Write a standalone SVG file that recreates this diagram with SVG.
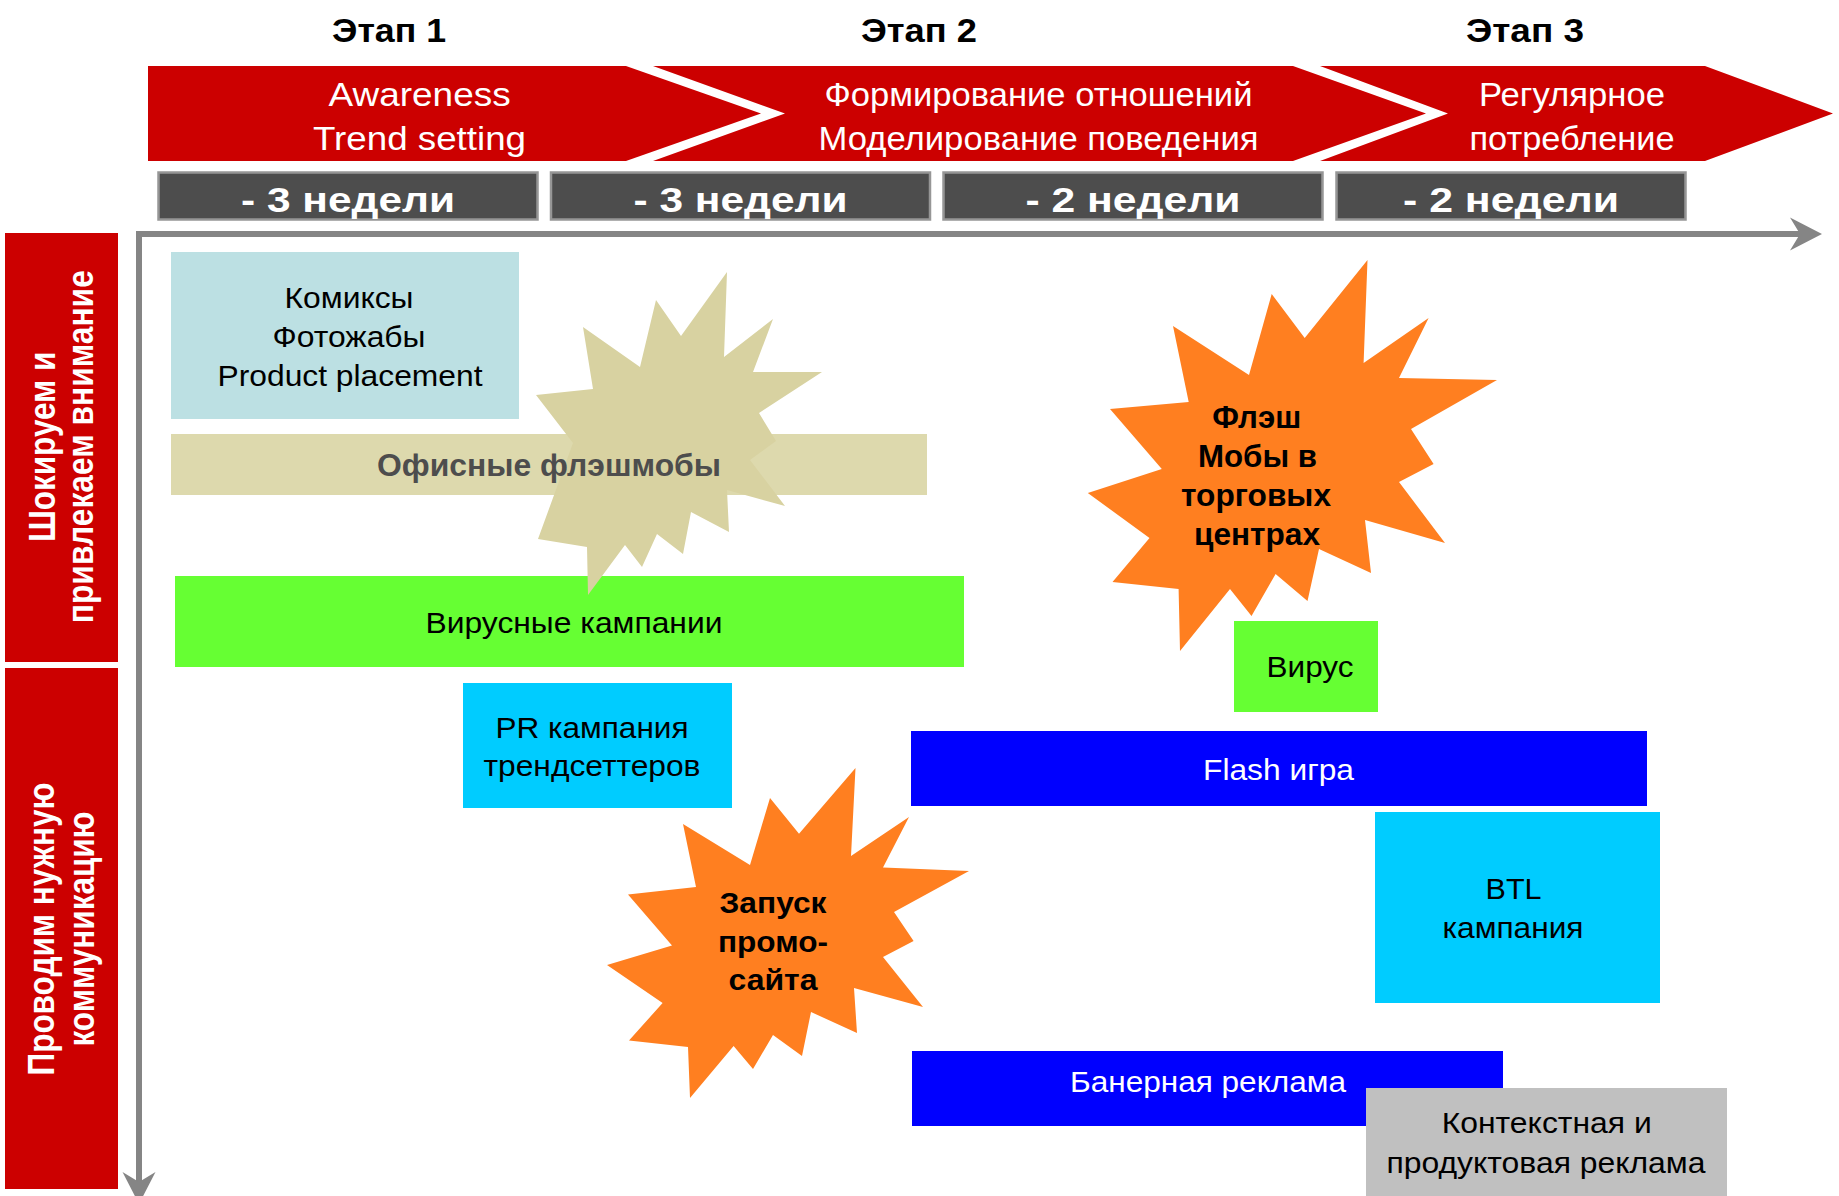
<svg xmlns="http://www.w3.org/2000/svg" width="1839" height="1196" viewBox="0 0 1839 1196">
  <style>
    text { font-family: "Liberation Sans", Arial, sans-serif; text-anchor: middle; }
    .b { font-weight: bold; }
    .stage { font-size: 33px; fill: #000; }
    .chev { font-size: 34px; fill: #fff; }
    .week { font-size: 35px; fill: #fff; }
    .vert { font-size: 36px; fill: #fff; }
    .lbl { font-size: 30px; fill: #000; }
    .wlbl { font-size: 30px; fill: #fff; }
    .red { fill: #CC0000; }
    .weekbox { fill: #4D4D4D; stroke: #969696; stroke-width: 2.5; }
    .orange { fill: #FF7F20; }
    .axis { stroke: #858585; stroke-width: 6; stroke-linecap: square; fill: none; }
  </style>
  <defs>
    <marker id="arr" markerUnits="userSpaceOnUse" markerWidth="40" markerHeight="40" viewBox="0 -20 40 40" refX="14" refY="0" orient="auto">
      <path d="M0,-16.5 L32,0 L0,16.5 L10,0 Z" fill="#858585"/>
    </marker>
  </defs>

  <rect width="1839" height="1196" fill="#fff"/>

  <!-- Stage headers -->
  <g id="stages">
    <text class="stage b" x="389" y="41.5" textLength="114" lengthAdjust="spacingAndGlyphs">Этап 1</text>
    <text class="stage b" x="919" y="41.5" textLength="116" lengthAdjust="spacingAndGlyphs">Этап 2</text>
    <text class="stage b" x="1525" y="41.5" textLength="118" lengthAdjust="spacingAndGlyphs">Этап 3</text>
  </g>

  <!-- Chevron band -->
  <g id="phase-1">
    <polygon class="red" points="148,66 626,66 761,113.5 626,161 148,161"/>
    <text class="chev" x="419.6" y="106" textLength="182" lengthAdjust="spacingAndGlyphs">Awareness</text>
    <text class="chev" x="419.5" y="149.5" textLength="213" lengthAdjust="spacingAndGlyphs">Trend setting</text>
  </g>
  <g id="phase-2">
    <polygon class="red" points="653,66 1293,66 1426,113.5 1293,161 653,161 785,113.5"/>
    <text class="chev" x="1038.5" y="106" textLength="428" lengthAdjust="spacingAndGlyphs">Формирование отношений</text>
    <text class="chev" x="1038.5" y="149.5" textLength="440" lengthAdjust="spacingAndGlyphs">Моделирование поведения</text>
  </g>
  <g id="phase-3">
    <polygon class="red" points="1320,66 1705,66 1833,113.5 1705,161 1320,161 1448,113.5"/>
    <text class="chev" x="1572" y="106" textLength="186" lengthAdjust="spacingAndGlyphs">Регулярное</text>
    <text class="chev" x="1572" y="149.5" textLength="205" lengthAdjust="spacingAndGlyphs">потребление</text>
  </g>

  <!-- Week boxes -->
  <g id="week-1">
    <rect class="weekbox" x="158.5" y="172.5" width="379" height="47"/>
    <text class="week b" x="348" y="212.3" textLength="214" lengthAdjust="spacingAndGlyphs">- 3 недели</text>
  </g>
  <g id="week-2">
    <rect class="weekbox" x="551" y="172.5" width="379" height="47"/>
    <text class="week b" x="740.5" y="212.3" textLength="214" lengthAdjust="spacingAndGlyphs">- 3 недели</text>
  </g>
  <g id="week-3">
    <rect class="weekbox" x="943.5" y="172.5" width="379" height="47"/>
    <text class="week b" x="1133" y="212.3" textLength="215" lengthAdjust="spacingAndGlyphs">- 2 недели</text>
  </g>
  <g id="week-4">
    <rect class="weekbox" x="1336.5" y="172.5" width="349" height="47"/>
    <text class="week b" x="1511" y="212.3" textLength="216" lengthAdjust="spacingAndGlyphs">- 2 недели</text>
  </g>

  <!-- Row labels -->
  <g id="row-attention">
    <rect class="red" x="5" y="233" width="113" height="429"/>
    <text class="vert b" transform="translate(55,446.7) rotate(-90)" textLength="190" lengthAdjust="spacingAndGlyphs">Шокируем и</text>
    <text class="vert b" transform="translate(93,446.7) rotate(-90)" textLength="353" lengthAdjust="spacingAndGlyphs">привлекаем внимание</text>
  </g>
  <g id="row-communication">
    <rect class="red" x="5" y="668" width="113" height="521"/>
    <text class="vert b" transform="translate(54,929) rotate(-90)" textLength="293" lengthAdjust="spacingAndGlyphs">Проводим нужную</text>
    <text class="vert b" transform="translate(94,929) rotate(-90)" textLength="235" lengthAdjust="spacingAndGlyphs">коммуникацию</text>
  </g>

  <!-- Axes -->
  <g id="connectors">
    <line class="axis" x1="139" y1="234" x2="1804" y2="234" marker-end="url(#arr)"/>
    <line class="axis" x1="139" y1="234" x2="139" y2="1186" marker-end="url(#arr)"/>
  </g>

  <!-- Nodes -->
  <g id="comics">
    <rect x="171" y="252" width="348" height="167" fill="#BCE0E3"/>
    <text class="lbl" x="349" y="308" textLength="129" lengthAdjust="spacingAndGlyphs">Комиксы</text>
    <text class="lbl" x="349" y="347" textLength="153" lengthAdjust="spacingAndGlyphs">Фотожабы</text>
    <text class="lbl" x="350" y="385.5" textLength="265" lengthAdjust="spacingAndGlyphs">Product placement</text>
  </g>

  <g id="viral-campaigns">
    <rect x="175" y="576" width="789" height="91" fill="#66FF33"/>
    <text class="lbl" x="574" y="633" textLength="297" lengthAdjust="spacingAndGlyphs">Вирусные кампании</text>
  </g>

  <g id="office-flashmob">
    <rect x="171" y="434" width="756" height="61" fill="#DDD9AD"/>
    <polygon fill="#D8D2A1" points="727,272 724,357 773,319 753,372 822,372 759,413 776,441 750,460 785,506 727,490 729,532 691,512 683,554 657,534 642,567 625,545 588,595 587,547 538,539 573,443 536,395 593,389 583,327 640,367 656,300 681,336"/>
    <text class="b" x="549" y="476" font-size="32" fill="#4D4D4D" textLength="344" lengthAdjust="spacingAndGlyphs">Офисные флэшмобы</text>
  </g>

  <g id="mall-flashmob">
    <polygon class="orange" points="1367.5,260 1363.6,363 1428.6,318 1399,378 1497,380 1411,429 1433.6,464 1399,482 1445,543 1365,520 1371,573 1319,549 1307.5,601 1275.6,574 1251.5,616 1230,589 1180,651 1178.6,589 1112.5,582 1149.5,538 1087.8,493 1161.8,469 1110,409 1188.7,402 1173,326 1249,375 1271.7,294 1304.7,338"/>
    <text class="b" font-size="31" x="1256.7" y="428" textLength="89" lengthAdjust="spacingAndGlyphs">Флэш</text>
    <text class="b" font-size="31" x="1257.5" y="467" textLength="119" lengthAdjust="spacingAndGlyphs">Мобы в</text>
    <text class="b" font-size="31" x="1256" y="506" textLength="150" lengthAdjust="spacingAndGlyphs">торговых</text>
    <text class="b" font-size="31" x="1257" y="545" textLength="126" lengthAdjust="spacingAndGlyphs">центрах</text>
  </g>

  <g id="virus">
    <rect x="1234" y="621" width="144" height="91" fill="#66FF33"/>
    <text class="lbl" x="1310" y="677" textLength="87" lengthAdjust="spacingAndGlyphs">Вирус</text>
  </g>

  <g id="pr-campaign">
    <rect x="463" y="683" width="269" height="125" fill="#00CCFF"/>
    <text class="lbl" x="592" y="738" textLength="193" lengthAdjust="spacingAndGlyphs">PR кампания</text>
    <text class="lbl" x="592" y="775.5" textLength="217" lengthAdjust="spacingAndGlyphs">трендсеттеров</text>
  </g>

  <g id="flash-game">
    <rect x="911" y="731" width="736" height="75" fill="#0000FF"/>
    <text class="wlbl" x="1278.5" y="780" textLength="151" lengthAdjust="spacingAndGlyphs">Flash игра</text>
  </g>

  <g id="btl-campaign">
    <rect x="1375" y="812" width="285" height="191" fill="#00CCFF"/>
    <text class="lbl" x="1513.6" y="899" textLength="56" lengthAdjust="spacingAndGlyphs">BTL</text>
    <text class="lbl" x="1513" y="938" textLength="141" lengthAdjust="spacingAndGlyphs">кампания</text>
  </g>

  <g id="promo-site">
    <polygon class="orange" points="855.5,768 851,856 909,817 883,867.5 969,871 894,912 913.6,941 883,957 923,1007 854,988 857,1033 811,1012 802,1056 773,1035 753,1069 733.6,1046 690,1098 688,1047 629,1040.5 662.6,1003 607,965 672,945.5 628,894.5 696,887 683,824 750,865 770,798 799,833.7"/>
    <text class="b" font-size="29" x="773" y="913" textLength="107" lengthAdjust="spacingAndGlyphs">Запуск</text>
    <text class="b" font-size="29" x="773" y="951.5" textLength="110" lengthAdjust="spacingAndGlyphs">промо-</text>
    <text class="b" font-size="29" x="773" y="990" textLength="89" lengthAdjust="spacingAndGlyphs">сайта</text>
  </g>

  <g id="banner-ads">
    <rect x="912" y="1051" width="591" height="75" fill="#0000FF"/>
    <text class="wlbl" x="1208" y="1092" textLength="276" lengthAdjust="spacingAndGlyphs">Банерная реклама</text>
  </g>

  <g id="context-ads">
    <rect x="1366" y="1088" width="361" height="108" fill="#C0C0C0"/>
    <text class="lbl" x="1546.7" y="1133" textLength="210" lengthAdjust="spacingAndGlyphs">Контекстная и</text>
    <text class="lbl" x="1546" y="1173" textLength="319" lengthAdjust="spacingAndGlyphs">продуктовая реклама</text>
  </g>
</svg>
